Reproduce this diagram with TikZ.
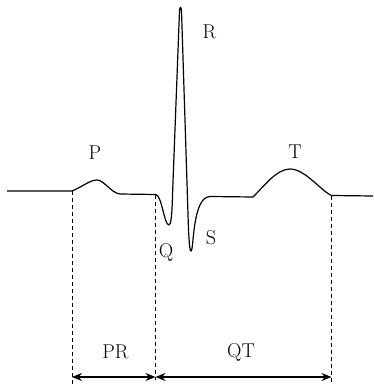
\documentclass[tikz,border=0pt]{standalone}
\usepackage{fontspec}
\usetikzlibrary{arrows.meta}
\begin{document}
\begin{tikzpicture}[x=1pt,y=-1pt,
  wave/.style={line width=1.2pt,line join=round},
  guide/.style={line width=0.8pt,dash pattern=on 4pt off 3pt},
  span/.style={line width=1.1pt,{Stealth[length=10pt,width=8pt]}-{Stealth[length=10pt,width=8pt]}},
  lbl/.style={font=\fontsize{20}{24}\selectfont,inner sep=0pt}]
\useasboundingbox (0,0) rectangle (373,387);
% key points
\coordinate (Pstart) at (72,191);
\coordinate (Qstart) at (155.5,194.5);
\coordinate (Tend) at (331.5,195.5);
\coordinate (Pbot) at (72,387);
\coordinate (Qbot) at (155.5,380);
\coordinate (Tbot) at (331.5,382);
\coordinate (A1) at (72,377);
\coordinate (A2) at (155.5,377);
\coordinate (A3) at (331.5,377);
% waveform
\draw[wave] (7,191) -- (Pstart)
  .. controls (82,187) and (90,180) .. (97,180)
  .. controls (104,180) and (111,193) .. (120,194) -- (Qstart)
  .. controls (162,195) and (164,225) .. (169,225)
  .. controls (171,225) and (172,215) .. (172.5,195)
  -- (179.5,11) .. controls (180,6) and (181,6) .. (181.5,11)
  -- (188.5,230) .. controls (189.5,248) and (190,251) .. (191,251)
  .. controls (194,251) and (192,197) .. (210,196.5)
  -- (253,197)
  .. controls (265,185) and (277,169) .. (290,169)
  .. controls (305,169) and (320,190) .. (Tend) -- (373,196);
% guides
\draw[guide] (Pstart) -- (Pbot);
\draw[guide] (Qstart) -- (Qbot);
\draw[guide] (Tend) -- (Tbot);
\draw[span] (A1) -- (A2);
\draw[span] (A2) -- (A3);
% labels
\node[lbl] (P) at (95,153) {P};
\node[lbl] (R) at (209.5,32) {R};
\node[lbl] (T) at (295,152) {T};
\node[lbl] (S) at (211,238) {S};
\node[lbl] (Q) at (166,252) {Q};
\node[lbl] (PR) at (115.5,352) {PR};
\node[lbl] (QT) at (241,352) {QT};
\end{tikzpicture}
\end{document}
